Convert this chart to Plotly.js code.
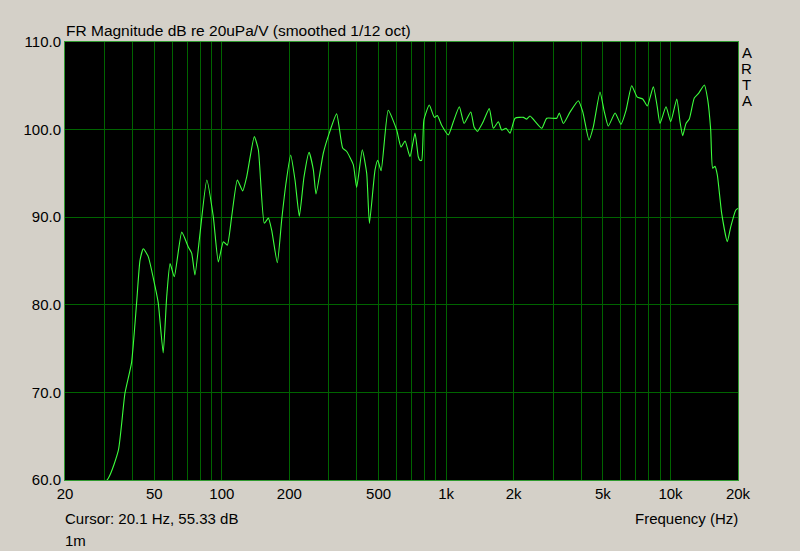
<!DOCTYPE html>
<html>
<head>
<meta charset="utf-8">
<script src="https://cdn.plot.ly/plotly-3.0.1.min.js"></script>
<style>html,body{margin:0;padding:0;background:#d4d0c8;}#chart{width:800px;height:551px;}</style>
</head>
<body>
<div id="chart"></div>
<script>
// Frequency (Hz)
const freq = [20.1, 31.2, 34.6, 37.0, 39.6, 41.7, 43.2, 44.7, 47.0, 50.4, 52.1, 54.8, 56.8, 58.8, 61.4, 66.3, 70.9, 73.4, 75.9, 80.0,
  85.7, 91.6, 96.5, 101.6, 105.8, 110.7, 117.3, 123.9, 129.1, 139.6, 145.5, 154.7, 161.2, 166.9, 176.8, 184.9, 193.3, 202.8, 212, 221.6,
  232.5, 244.8, 255.9, 263, 283.4, 301.3, 325, 345.7, 360.4, 385.6, 399.2, 422.9, 442.5, 455, 482, 495.6, 513, 552, 602, 629.6,
  656, 690, 726.5, 751.4, 764, 778, 796, 841, 886, 913.8, 955, 1023, 1077, 1145, 1202, 1288, 1332, 1378, 1456, 1557,
  1623, 1710, 1768, 1849, 1927, 2029, 2210, 2286, 2365, 2668, 2808, 3112, 3194, 3330, 3566, 3884, 4063, 4335, 4529, 4852,
  5055, 5284, 5664, 6014, 6338, 6716, 7114, 7521, 7884, 8387, 8732, 8978, 9553, 10025, 10667, 11030, 11330, 11730, 12130, 12770,
  13310, 14160, 14660, 15110, 15420, 15800, 16180, 16920, 17920, 18560, 19540, 20000];
// Magnitude (dB re 20uPa/V)
const magDb = [55.33, 60.2, 63.4, 69.9, 73.4, 80.2, 85.1, 86.4, 85.5, 82.1, 80.2, 74.5, 80.9, 84.7, 83.2, 88.3, 86.6, 85.9, 83.4, 88.2,
  94.25, 90.1, 84.9, 87.2, 86.8, 90.1, 94.25, 93.0, 94.6, 99.2, 97.7, 89.3, 89.9, 88.5, 84.8, 89.7, 93.9, 97.1, 94.25, 90.1,
  94.6, 97.4, 95.4, 92.65, 97.3, 99.6, 101.8, 97.9, 97.5, 96.0, 93.4, 97.7, 95.0, 89.3, 95.4, 96.5, 95.3, 102.2, 99.95, 98.0,
  98.7, 96.9, 99.6, 96.9, 96.5, 96.5, 101.1, 102.8, 101.4, 101.6, 100.5, 99.4, 100.9, 102.6, 100.7, 102.0, 100.3, 99.8, 100.8, 102.4,
  100.15, 100.9, 99.95, 100.15, 99.6, 101.3, 101.4, 101.2, 101.55, 100.15, 101.3, 101.3, 101.9, 100.7, 102.0, 103.3, 102.05, 98.8, 100.3, 104.3,
  102.2, 100.4, 101.9, 100.6, 102.2, 105.0, 103.7, 103.5, 102.7, 104.9, 102.6, 100.7, 102.6, 100.9, 103.5, 100.9, 99.3, 100.7, 101.2, 103.6,
  104.1, 105.1, 103.4, 100.0, 95.6, 95.8, 94.8, 90.4, 87.2, 88.9, 90.8, 91.0];

const xGrid = [20,30,40,50,60,70,80,90,100,200,300,400,500,600,700,800,900,1000,2000,3000,4000,5000,6000,7000,8000,9000,10000,20000];
const xLabeled = {20:"20",50:"50",100:"100",200:"200",500:"500",1000:"1k",2000:"2k",5000:"5k",10000:"10k",20000:"20k"};
const xText = xGrid.map(v => xLabeled[v] || "");
const yTicks = [60,70,80,90,100,110];
const yText = ["60.0","70.0","80.0","90.0","100.0","110.0"];

const gridCol = "#006400";
const frameCol = "#2f9a2f";
const fnt = {family: "Liberation Sans, Arial, sans-serif", size: 15, color: "#000"};

// plot area in pixels: x 65..738, y 42..480
const px = x => (x - 65) / 673;
const py = y => (480 - y) / 438;

const trace = {
  x: freq, y: magDb, type: "scatter", mode: "lines",
  line: {color: "#3cff3c", width: 1.1, shape: "spline", smoothing: 0.5},
  hoverinfo: "skip"
};

function ann(text, x, y, xanchor) {
  return {text: text, x: px(x), y: py(y), xref: "paper", yref: "paper", showarrow: false,
          xanchor: xanchor, yanchor: "middle", font: fnt};
}

const layout = {
  width: 800, height: 551,
  paper_bgcolor: "#d4d0c8", plot_bgcolor: "#000000",
  margin: {l: 65, r: 62, t: 42, b: 71},
  showlegend: false,
  font: fnt,
  title: {text: "FR Magnitude dB re 20uPa/V (smoothed 1/12 oct)", x: 66/800, xanchor: "left", y: 1 - 31/551, yanchor: "middle", font: {family: fnt.family, size: 15.5, color: "#000"}},
  xaxis: {
    type: "log", range: [Math.log10(20), Math.log10(20000)],
    tickmode: "array", tickvals: xGrid, ticktext: xText,
    showgrid: true, gridcolor: gridCol, gridwidth: 1,
    showline: true, linecolor: frameCol, linewidth: 1, mirror: true,
    ticks: "", zeroline: false, tickfont: fnt, fixedrange: true
  },
  yaxis: {
    range: [60, 110], tickmode: "array", tickvals: yTicks, ticktext: yText,
    showgrid: true, gridcolor: gridCol, gridwidth: 1,
    showline: true, linecolor: frameCol, linewidth: 1, mirror: true,
    ticks: "", zeroline: false, tickfont: fnt, fixedrange: true
  },
  annotations: [
    ann("A", 746.5, 52, "center"),
    ann("R", 746.5, 68, "center"),
    ann("T", 746.5, 84, "center"),
    ann("A", 746.5, 100, "center"),
    ann("Cursor: 20.1 Hz, 55.33 dB", 63, 518, "left"),
    ann("1m", 63, 540, "left"),
    ann("Frequency (Hz)", 740, 518, "right")
  ]
};
Plotly.newPlot("chart", [trace], layout, {staticPlot: true, displayModeBar: false});
</script>
</body>
</html>
